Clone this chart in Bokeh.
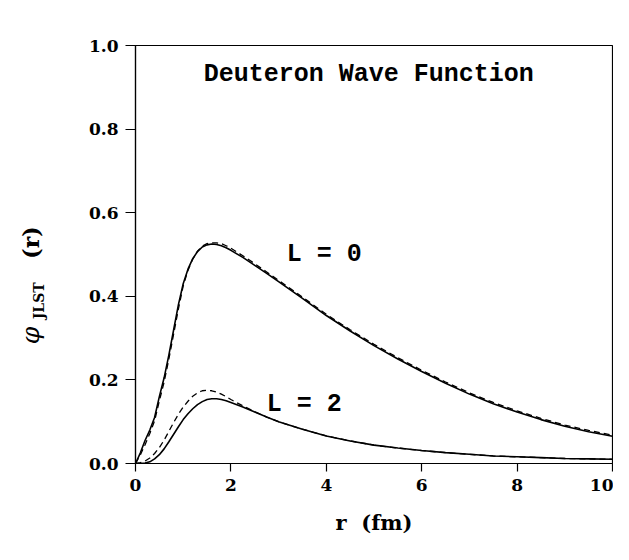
from bokeh.plotting import figure
from bokeh.models import Range1d, FixedTicker, PrintfTickFormatter, Label
from bokeh.layouts import row
from bokeh.core.properties import value
from bokeh.embed import file_html
from bokeh.resources import INLINE
import math

# ---- data ----
r = [0, 0.1, 0.2, 0.3, 0.4, 0.5, 0.6, 0.7, 0.8, 0.9, 1.0, 1.1, 1.2, 1.3, 1.4, 1.5,
     1.6, 1.7, 1.8, 1.9, 2.0, 2.25, 2.5, 2.75, 3.0, 3.5, 4.0, 4.5, 5.0, 5.5, 6.0,
     6.5, 7.0, 7.5, 8.0, 8.5, 9.0, 9.5, 10.0]

l0_solid = [0, 0.025, 0.055, 0.08, 0.11, 0.16, 0.205, 0.26, 0.32, 0.38, 0.43, 0.465,
            0.49, 0.507, 0.518, 0.523, 0.525, 0.524, 0.521, 0.516, 0.51, 0.493, 0.474,
            0.455, 0.435, 0.395, 0.354, 0.317, 0.282, 0.25, 0.22, 0.192, 0.166, 0.143,
            0.123, 0.105, 0.089, 0.076, 0.065]

l0_dashed = [0, 0.02, 0.045, 0.072, 0.102, 0.15, 0.195, 0.25, 0.31, 0.37, 0.425, 0.462,
             0.489, 0.508, 0.52, 0.526, 0.528, 0.528, 0.526, 0.521, 0.515, 0.497, 0.478,
             0.458, 0.438, 0.398, 0.357, 0.32, 0.285, 0.253, 0.223, 0.195, 0.169, 0.146,
             0.126, 0.108, 0.092, 0.079, 0.068]

l2_solid = [0, 0.0, 0.001, 0.004, 0.011, 0.021, 0.035, 0.052, 0.07, 0.088, 0.105, 0.119,
            0.131, 0.141, 0.148, 0.153, 0.155, 0.155, 0.153, 0.15, 0.146, 0.135, 0.123,
            0.111, 0.1, 0.082, 0.066, 0.054, 0.044, 0.037, 0.031, 0.026, 0.022, 0.018,
            0.016, 0.014, 0.012, 0.011, 0.01]

l2_dashed = [0, 0.002, 0.006, 0.013, 0.024, 0.038, 0.056, 0.077, 0.098, 0.118, 0.135,
             0.149, 0.161, 0.169, 0.174, 0.175, 0.174, 0.171, 0.166, 0.16, 0.153, 0.138,
             0.124, 0.111, 0.1, 0.082, 0.066, 0.054, 0.044, 0.037, 0.031, 0.026, 0.022,
             0.018, 0.016, 0.014, 0.012, 0.011, 0.01]

x_ticks = [0, 2, 4, 6, 8, 10]
y_ticks = [0.0, 0.2, 0.4, 0.6, 0.8, 1.0]

title_text = "Deuteron Wave Function"
label_l0 = "L = 0"
label_l2 = "L = 2"

serif = "DejaVu Serif"
mono = "Liberation Mono"

HEIGHT = 544
TOP = 45
BOTTOM = 81
SIDE_W = 60

y_range = Range1d(0, 1.0)

# ---- main figure ----
p = figure(width=553, height=HEIGHT, output_backend="svg", toolbar_location=None,
           x_range=Range1d(0, 10), y_range=y_range)
p.min_border_left = 135 - SIDE_W
p.min_border_right = 1
p.min_border_top = TOP
p.min_border_bottom = BOTTOM
p.background_fill_color = "white"
p.border_fill_color = "white"
p.grid.visible = False
p.outline_line_color = "black"
p.outline_line_width = 1.2

for ax in (p.xaxis[0], p.yaxis[0]):
    ax.axis_line_color = "black"
    ax.axis_line_width = 1.2
    ax.major_tick_line_color = "black"
    ax.major_tick_line_width = 1.2
    ax.major_tick_in = 0
    ax.minor_tick_line_color = None
    ax.major_label_text_font = serif
    ax.major_label_text_font_style = "bold"
    ax.major_label_text_font_size = "17px"
    ax.major_label_text_color = "black"

p.xaxis.ticker = FixedTicker(ticks=x_ticks)
p.yaxis.ticker = FixedTicker(ticks=y_ticks)
p.xaxis.formatter = PrintfTickFormatter(format="%d")
p.yaxis.formatter = PrintfTickFormatter(format="%.1f")
p.xaxis.major_tick_out = 8
p.yaxis.major_tick_out = 10
p.xaxis.major_label_standoff = 7
p.yaxis.major_label_standoff = 7

p.xaxis.axis_label = "r\u00a0\u00a0(fm)"
p.xaxis.axis_label_text_font = serif
p.xaxis.axis_label_text_font_style = "bold"
p.xaxis.axis_label_text_font_size = "21px"
p.xaxis.axis_label_text_color = "black"
p.xaxis.axis_label_standoff = 16

# curves
p.line(r, l0_solid, line_color="black", line_width=1.6)
p.line(r, l0_dashed, line_color="black", line_width=1.3, line_dash="6 4")
p.line(r, l2_solid, line_color="black", line_width=1.6)
p.line(r, l2_dashed, line_color="black", line_width=1.3, line_dash="6 4")

# in-plot texts
p.add_layout(Label(x=1.43, y=0.93, text=title_text, text_font=mono,
                   text_font_style="bold", text_font_size="25px",
                   text_baseline="middle", text_align="left", text_color="black"))
p.add_layout(Label(x=3.17, y=0.5, text=label_l0, text_font=mono,
                   text_font_style="bold", text_font_size="25px",
                   text_baseline="middle", text_align="left", text_color="black"))
p.add_layout(Label(x=2.75, y=0.14, text=label_l2, text_font=mono,
                   text_font_style="bold", text_font_size="25px",
                   text_baseline="middle", text_align="left", text_color="black"))

# ---- side strip holding the rotated y-axis label ----
s = figure(width=SIDE_W, height=HEIGHT, output_backend="svg", toolbar_location=None,
           x_range=Range1d(0, SIDE_W), y_range=y_range,
           x_axis_type=None, y_axis_type=None)
s.min_border_left = 0
s.min_border_right = 0
s.min_border_top = TOP
s.min_border_bottom = BOTTOM
s.outline_line_color = None
s.grid.visible = False
s.background_fill_color = "white"
s.border_fill_color = "white"

rot = math.pi / 2
s.text(x=[30], y=[0.285], text=["\u03c6"], angle=rot,
       text_font=value(serif), text_font_style="italic", text_font_size="25px",
       text_baseline="middle", text_align="left", text_color="black")
s.text(x=[38], y=[0.345], text=["JLST"], angle=rot,
       text_font=value(serif), text_font_style="bold", text_font_size="14px",
       text_baseline="middle", text_align="left", text_color="black")
s.text(x=[30], y=[0.49], text=["(r)"], angle=rot,
       text_font=value(serif), text_font_style="bold", text_font_size="22px",
       text_baseline="middle", text_align="left", text_color="black")

layout = row(s, p, spacing=0)

open("out.html", "w").write(file_html(layout, INLINE))
